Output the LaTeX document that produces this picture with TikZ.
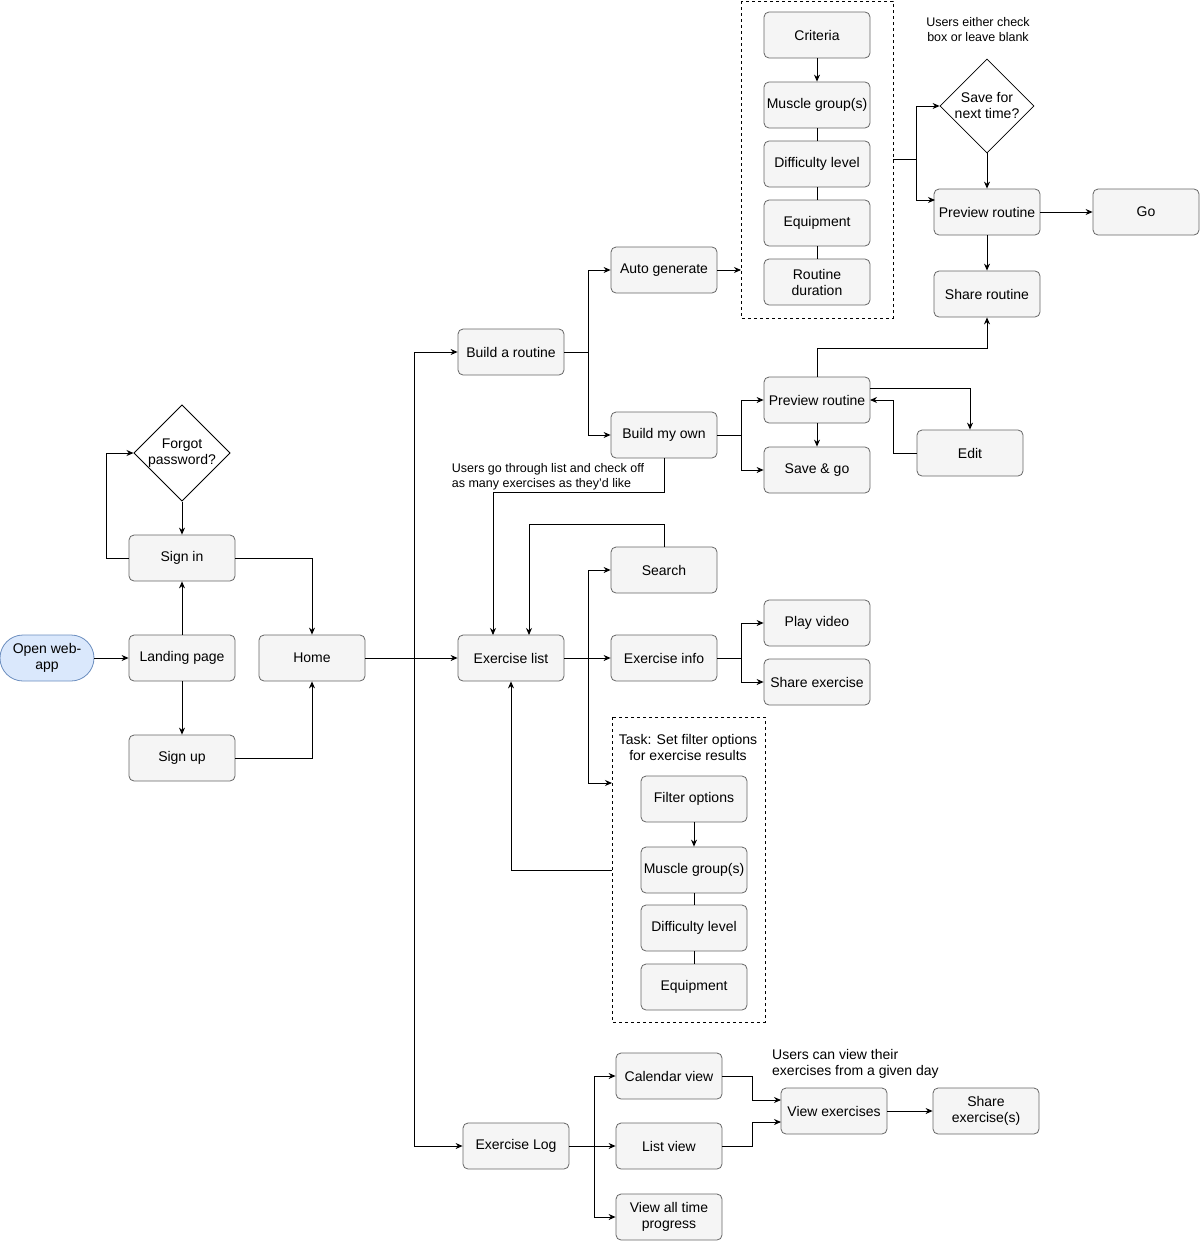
\documentclass[tikz,border=0pt]{standalone}
\usepackage{fontspec}
\setmainfont{Liberation Sans}
\usetikzlibrary{shapes.geometric,arrows.meta}
\definecolor{bfill}{HTML}{F5F5F5}
\definecolor{bdraw}{HTML}{666666}
\definecolor{lfill}{HTML}{DAE8FC}
\definecolor{ldraw}{HTML}{6C8EBF}
\begin{document}
\begin{tikzpicture}[x=1pt,y=-1pt,
  every node/.style={font=\fontsize{14}{16}\selectfont, align=center, inner sep=1pt},
  box/.style={draw=bdraw, fill=bfill, rounded corners=5pt, minimum width=106pt, minimum height=46pt, line width=0.8pt},
  dia/.style={diamond, draw=black, fill=white, minimum width=94pt, minimum height=94pt, aspect=1, line width=0.8pt, inner sep=0pt},
  arr/.style={-{Stealth[length=7pt,width=6pt]}, line width=0.9pt},
  ln/.style={line width=0.9pt},
  dbox/.style={draw, dashed, line width=0.8pt},
  note/.style={font=\fontsize{12.5}{15}\selectfont}]
\useasboundingbox (0,0) rectangle (1200,1242);
% dashed boxes
\draw[dbox] (741,1) rectangle (893,318); \coordinate (db1) at (893,159); \coordinate (db1l) at (741,270);
\draw[dbox] (612,717) rectangle (765,1022); \coordinate (db2l) at (612,783); \coordinate (db2r) at (612,870);
% nodes
\node[box, rounded corners=23pt, fill=lfill, draw=ldraw, minimum width=94pt] (open) at (47,658) {Open web-\\app};
\node[box] (land) at (182,658) {Landing page};
\node[box] (signin) at (182,558) {Sign in};
\node[box] (signup) at (182,758) {Sign up};
\node[dia] (forgot) at (182,453) {Forgot\\password?};
\node[box] (home) at (312,658) {Home};
\node[box] (build) at (511,352) {Build a routine};
\node[box] (elist) at (511,658) {Exercise list};
\node[box] (elog) at (516,1146) {Exercise Log};
\node[box] (auto) at (664,270) {Auto generate};
\node[box] (own) at (664,435) {Build my own};
\node[box] (crit) at (817,35) {Criteria};
\node[box] (mg1) at (817,105) {Muscle group(s)};
\node[box] (dl1) at (817,164) {Difficulty level};
\node[box] (eq1) at (817,223) {Equipment};
\node[box] (rd) at (817,282) {Routine\\duration};
\node[dia] (save) at (987,106) {Save for\\next time?};
\node[note] (n1) at (978,30) {Users either check\\box or leave blank};
\node[box] (prev1) at (987,212) {Preview routine};
\node[box] (go) at (1146,212) {Go};
\node[box] (share) at (987,294) {Share routine};
\node[box] (prev2) at (817,400) {Preview routine};
\node[box] (sg) at (817,470) {Save \& go};
\node[box] (edit) at (970,453) {Edit};
\node[note, align=left] (n2) at (548,477) {Users go through list and check off\\as many exercises as they'd like};
\node[box] (search) at (664,570) {Search};
\node[box] (info) at (664,658) {Exercise info};
\node[box] (play) at (817,623) {Play video};
\node[box] (shex) at (817,682) {Share exercise};
\node (n3) at (688,747) {Task: Set filter options\\for exercise results};
\node[box] (filt) at (694,799) {Filter options};
\node[box] (mg2) at (694,870) {Muscle group(s)};
\node[box] (dl2) at (694,928) {Difficulty level};
\node[box] (eq2) at (694,987) {Equipment};
\node[box] (cal) at (669,1076) {Calendar view};
\node[box] (lv) at (669,1146) {List view};
\node[box] (all) at (669,1217) {View all time\\progress};
\node[box] (ve) at (834,1111) {View exercises};
\node[box] (shx) at (986,1111) {Share\\exercise(s)};
\node[align=left, anchor=west] (n4) at (771,1064) {Users can view their\\exercises from a given day};
% edges
\draw[arr] (open) -- (land);
\draw[arr] (land) -- (signin);
\draw[arr] (land) -- (signup);
\draw[arr] (signin.west) -- (106,558) |- (forgot.west);
\draw[arr] (forgot) -- (signin);
\draw[arr] (signin.east) -| (home.north);
\draw[arr] (signup.east) -| (home.south);
\draw[arr] (home) -- (elist);
\draw[arr] (414,658) |- (build.west);
\draw[arr] (414,658) |- (elog.west);
\draw[arr] (build.east) -- (588,352) |- (auto.west);
\draw[arr] (588,352) |- (own.west);
\draw[arr] (auto) -- (db1l);
\draw[arr] (crit) -- (mg1);
\draw[ln] (mg1) -- (dl1); \draw[ln] (dl1) -- (eq1); \draw[ln] (eq1) -- (rd);
\draw[arr] (db1) -- (916,159) |- (save.west);
\draw[arr] (916,159) |- (935,200);
\draw[arr] (save) -- (prev1);
\draw[arr] (prev1) -- (go);
\draw[arr] (prev1) -- (share);
\draw[arr] (own.east) -- (741,435) |- (prev2.west);
\draw[arr] (741,435) |- (sg.west);
\draw[arr] (prev2.north) -- (817,348) -| (share.south);
\draw[arr] (870,388) -| (edit.north);
\draw[arr] (edit.west) -- (893,453) |- (870,400);
\draw[arr] (prev2) -- (sg);
\draw[arr] (own.south) -- (664,492) -| (493,635);
\draw[arr] (search.north) -- (664,524) -| (529,635);
\draw[arr] (elist) -- (info);
\draw[arr] (588,658) |- (search.west);
\draw[arr] (588,658) |- (db2l);
\draw[arr] (info.east) -- (741,658) |- (play.west);
\draw[arr] (741,658) |- (shex.west);
\draw[arr] (filt) -- (mg2);
\draw[ln] (mg2) -- (dl2); \draw[ln] (dl2) -- (eq2);
\draw[arr] (db2r) -| (elist.south);
\draw[arr] (elog) -- (lv);
\draw[arr] (594,1146) |- (cal.west);
\draw[arr] (594,1146) |- (all.west);
\draw[arr] (cal.east) -- (752,1076) |- (781,1100);
\draw[arr] (lv.east) -- (752,1146) |- (781,1122);
\draw[arr] (ve) -- (shx);
\end{tikzpicture}
\end{document}
